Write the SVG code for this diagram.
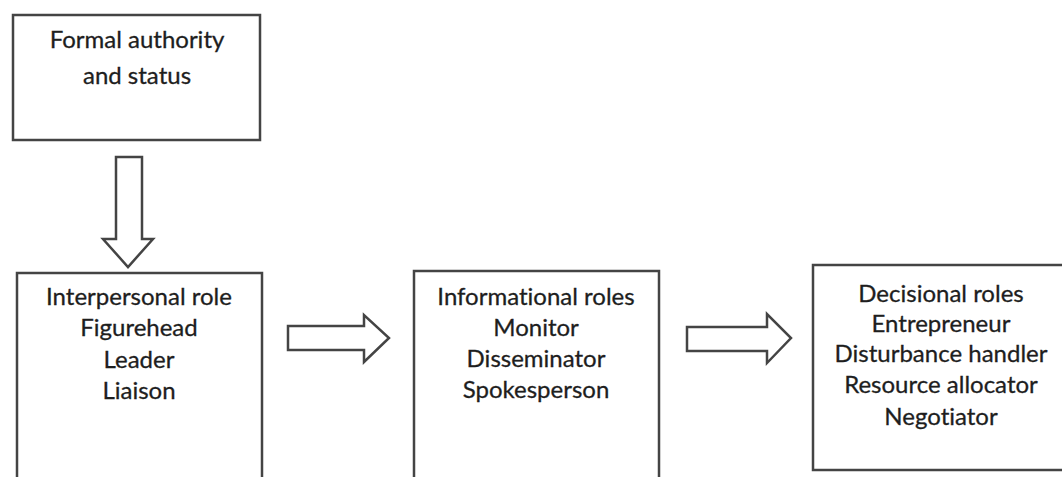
<svg xmlns="http://www.w3.org/2000/svg" width="1062" height="477" viewBox="0 0 1062 477">
<style>
.box{fill:#fff;stroke:#444;stroke-width:2.5}
.arr{fill:#fff;stroke:#444;stroke-width:2.5;stroke-linejoin:miter}
text{font-family:Lato,"Liberation Sans",sans-serif;font-size:24px;fill:#1e1e1e;text-anchor:middle;font-variant-ligatures:none;stroke:#1e1e1e;stroke-width:0.3}
</style>
<rect width="1062" height="477" fill="#fff"/>
<g id="formal">
<rect class="box" x="13" y="15" width="247" height="125"/>
<text x="137" y="48">Formal authority</text>
<text x="137" y="84">and status</text>
</g>
<g id="interpersonal">
<rect class="box" x="17" y="273" width="245" height="220"/>
<text x="139" y="305">Interpersonal role</text>
<text x="139" y="336">Figurehead</text>
<text x="139" y="368">Leader</text>
<text x="139" y="399">Liaison</text>
</g>
<g id="informational">
<rect class="box" x="414" y="271" width="245" height="220"/>
<text x="536" y="305">Informational roles</text>
<text x="536" y="336">Monitor</text>
<text x="536" y="367">Disseminator</text>
<text x="536" y="398">Spokesperson</text>
</g>
<g id="decisional">
<rect class="box" x="813" y="265" width="260" height="205"/>
<text x="941" y="302">Decisional roles</text>
<text x="941" y="332">Entrepreneur</text>
<text x="941" y="362">Disturbance handler</text>
<text x="941" y="393">Resource allocator</text>
<text x="941" y="425">Negotiator</text>
</g>
<g id="connectors">
<polygon class="arr" points="116,157 142,157 142,239 153,239 128,267 103,239 116,239"/>
<polygon class="arr" points="288,326 364,326 364,315 389,338 364,362 364,350 288,350"/>
<polygon class="arr" points="687,327 767,327 767,314 791,338 767,363 767,351 687,351"/>
</g>
</svg>
